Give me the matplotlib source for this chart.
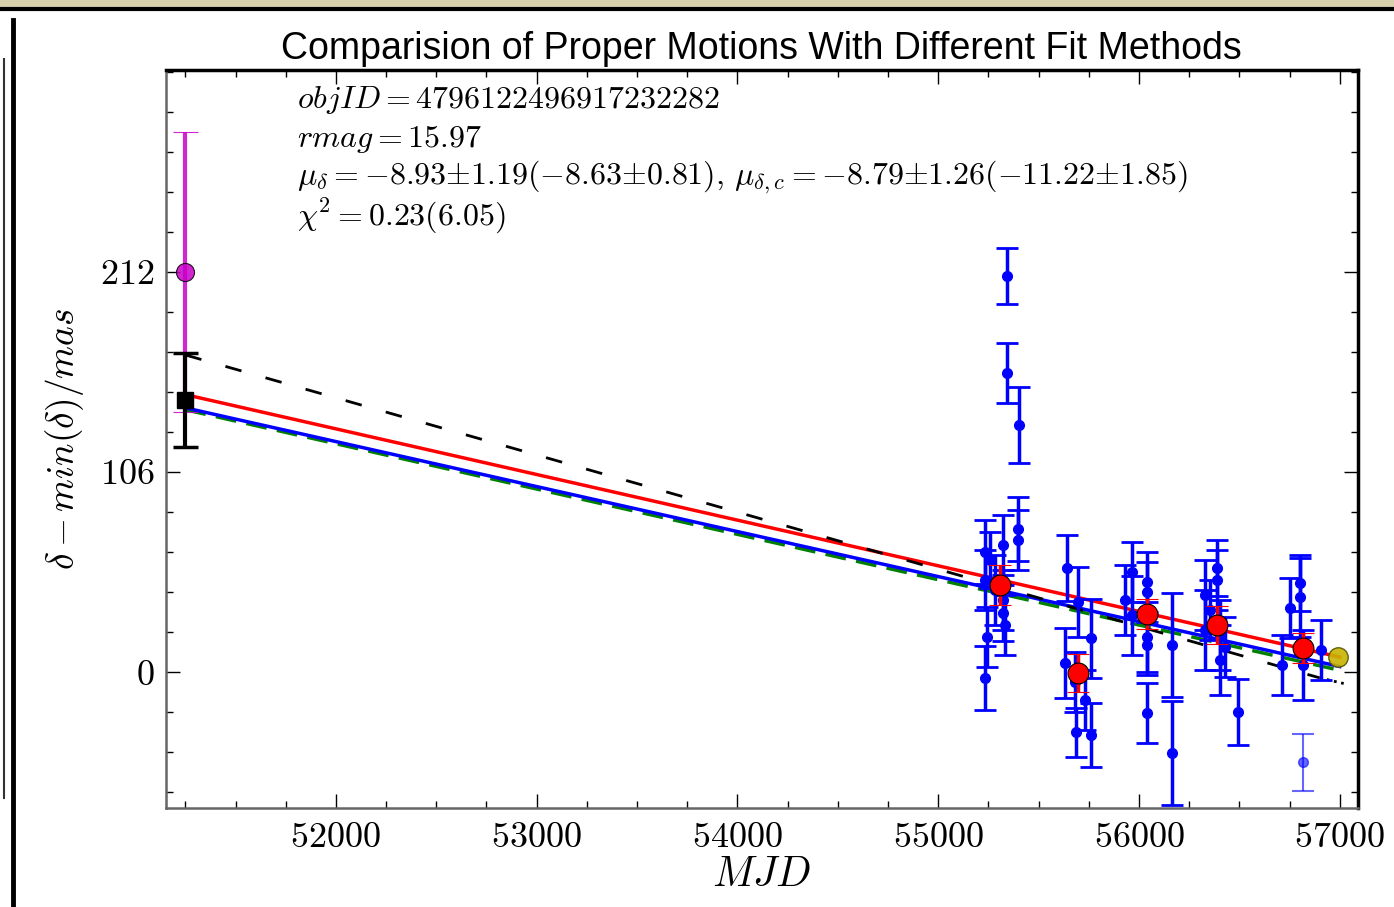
import numpy as np
import matplotlib
matplotlib.use("Agg")
from matplotlib import pyplot as plt
from matplotlib.lines import Line2D
from matplotlib.ticker import MultipleLocator

plt.rcParams['mathtext.fontset'] = 'cm'
plt.rcParams['font.family'] = 'serif'
plt.rcParams['font.serif'] = ['cmr10', 'DejaVu Serif']
plt.rcParams['axes.formatter.use_mathtext'] = True

# individual epochs (blue)
mjd = [55234, 55234, 55244, 55234, 55259, 55323, 55323, 55323, 55333, 55343,
       55343, 55403, 55398, 55398, 55283,
       55642, 55697, 55762, 55632, 55682, 55687, 55762, 55732,
       55966, 56041, 56041, 55966, 56041, 56041, 56041, 56165, 56165, 55931,
       56389, 56389, 56330, 56355, 56405, 56405, 56494, 56330, 56430,
       56803, 56803, 56753, 56713, 56818, 56908]
dec = [63.6, 48.8, 18.5, -3.2, 59.4, 67.3, 38.2, 31.3, 24.9, 209.9,
       158.5, 130.9, 75.8, 70.0, 43.5,
       55.1, 37.1, 18.0, 4.8, -5.3, -31.8, -33.4, -14.8,
       53.0, 47.7, 42.4, 30.2, 18.5, 14.3, -21.7, 14.3, -42.9, 38.2,
       55.1, 48.8, 40.8, 32.9, 19.6, 6.4, -21.2, 22.3, 13.2,
       47.2, 39.7, 33.9, 3.7, 3.7, 11.7]
dec_err = [17, 16, 16, 17, 15, 16, 16, 15, 16, 15,
           16, 20, 17, 16, 18.5,
           17.5, 18.5, 21, 18.5, 16, 13, 17, 16,
           16, 16, 16, 21, 18.5, 16, 16, 27.5, 27.5, 18.5,
           15, 16, 18.5, 16, 18.5, 18.5, 17.5, 21, 16,
           15, 21, 16, 16, 18.5, 16]

# faint outlier
out_mjd = [56818]
out_dec = [-47.7]
out_err = [15]

# yearly means (red)
mean_mjd = [55308, 55697, 56040, 56390, 56818]
mean_dec = [46, -0.5, 31, 25, 13]
mean_err = [10.5, 10, 8, 10, 8]

# first-epoch points
pos_mjd = [51250]
pos_dec = [212]
pos_err = [74]
usno_mjd = [51250]
usno_dec = [144]
usno_err = [25]
last_mjd = [56990]
last_dec = [8]

# fitted lines
fit_x = [51250, 57000]
red_fit = [147, 8]
blue_fit = [140, 3]
green_fit = [139, 1]
black_x = [51250, 56900]
black_fit = [168, -3]
black_ext_x = [56900, 57020]
black_ext = [-3, -6]

fig = plt.figure(figsize=(13.94, 9.07), dpi=100)
ax = fig.add_axes([0.119, 0.109, 0.855, 0.814])

ax.plot(fit_x, green_fit, color='green', lw=2.5, ls=(0, (6, 3)), zorder=2)
ax.plot(fit_x, blue_fit, color='blue', lw=2.5, zorder=2)
ax.plot(fit_x, red_fit, color='red', lw=2.5, zorder=3)
ax.plot(black_x, black_fit, color='black', lw=2, ls=(0, (6, 9)), zorder=3)
ax.plot(black_ext_x, black_ext, color='black', lw=2, ls=':', zorder=3)

ax.errorbar(mjd, dec, yerr=dec_err, fmt='o', color='blue', ms=7, lw=2.5,
            capsize=8, capthick=2, zorder=4)
ax.errorbar(out_mjd, out_dec, yerr=out_err, fmt='o', color='blue', ms=7, lw=1.5,
            capsize=8, capthick=1.5, alpha=0.6, zorder=4)
ax.errorbar(mean_mjd, mean_dec, yerr=mean_err, fmt='o', color='red', mec='black',
            mew=0.8, ms=15, lw=2.5, capsize=8, capthick=2, zorder=6)
ax.errorbar(pos_mjd, pos_dec, yerr=pos_err, fmt='o', color='#c800c8', mec='black',
            mew=0.8, ms=13, lw=3, capsize=9, capthick=2.5, alpha=0.85, zorder=5)
ax.errorbar(usno_mjd, usno_dec, yerr=usno_err, fmt='s', color='black', ms=12,
            lw=3, capsize=9, capthick=2.5, zorder=6)
ax.plot(last_mjd, last_dec, 'o', color='#c8b400', mec='#555500', mew=1, ms=14,
        alpha=0.9, zorder=7)

ax.set_xlim(51153, 57090)
ax.set_ylim(-72, 319)
ax.set_xticks([52000, 53000, 54000, 55000, 56000, 57000])
ax.set_yticks([0, 106, 212])
ax.xaxis.set_minor_locator(MultipleLocator(250))
ax.yaxis.set_minor_locator(MultipleLocator(21.2))
ax.tick_params(which='both', direction='in', top=True, right=True, labelsize=26)
ax.tick_params(which='major', length=10, width=1)
ax.tick_params(which='minor', length=5, width=1)
ax.tick_params(axis='x', pad=10)
ax.tick_params(axis='y', pad=8)

for side in ['top', 'right']:
    ax.spines[side].set_linewidth(2.5)
    ax.spines[side].set_color('black')
for side in ['left', 'bottom']:
    ax.spines[side].set_linewidth(1.8)
    ax.spines[side].set_color('#666666')

ax.set_title('Comparision of Proper Motions With Different Fit Methods',
             family='Liberation Sans', fontsize=27, pad=8)
ax.set_xlabel(r'$MJD$', fontsize=30, labelpad=2)
ax.set_ylabel(r'$\delta - min(\delta)/mas$', fontsize=27, labelpad=10)

lines = [r'$objID = 4796122496917232282$',
         r'$rmag = 15.97$',
         r'$\mu_\delta = -8.93{\pm}1.19(-8.63{\pm}0.81),\, \mu_{\delta,c} = -8.79{\pm}1.26(-11.22{\pm}1.85)$',
         r'$\chi^2 = 0.23(6.05)$']
for i, s in enumerate(lines):
    ax.text(0.110, 0.959 - i * 0.0525, s, transform=ax.transAxes,
            fontsize=23, va='center', ha='left')

# screenshot frame edges
fig.add_artist(plt.Rectangle((0, 0.992), 1, 0.008, transform=fig.transFigure,
                             color='#d9d1ad', lw=0))
fig.add_artist(Line2D([0, 1], [0.99, 0.99], transform=fig.transFigure,
                      color='black', lw=3))
fig.add_artist(Line2D([0.0095, 0.0095], [0, 0.978], transform=fig.transFigure,
                      color='black', lw=3.5))
fig.add_artist(Line2D([0.003, 0.003], [0.12, 0.935], transform=fig.transFigure,
                      color='#333333', lw=1.5))

fig.savefig('out.png', dpi=100)
